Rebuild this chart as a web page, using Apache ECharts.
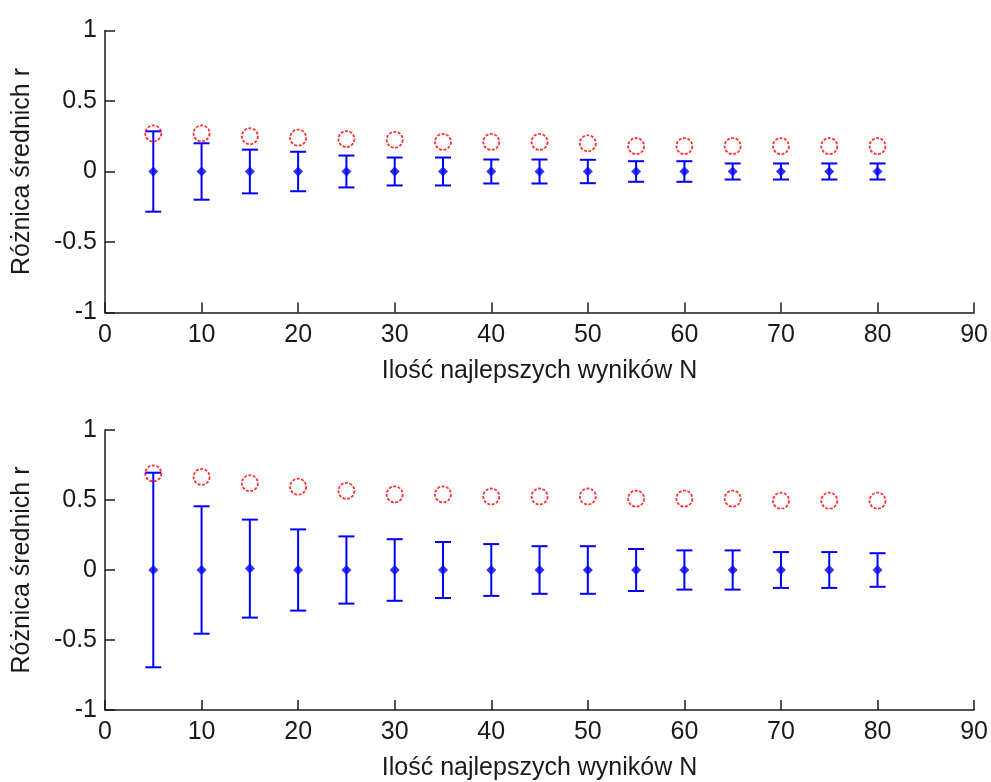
<!DOCTYPE html>
<html>
<head>
<meta charset="utf-8">
<script src="https://cdn.jsdelivr.net/npm/echarts@6/dist/echarts.min.js"></script>
<style>html,body{margin:0;padding:0;background:#fff;}#c{width:991px;height:782px;}</style>
</head>
<body>
<div id="c"></div>
<script>
var N = [5,10,15,20,25,30,35,40,45,50,55,60,65,70,75,80];
var xTicks = [0,10,20,30,40,50,60,70,80,90];
var yTicks = [-1,-0.5,0,0.5,1];

var topUpper = [0.27,0.27,0.25,0.24,0.23,0.225,0.21,0.21,0.21,0.20,0.18,0.18,0.18,0.18,0.18,0.18];
var topMean  = [0,0,0,0,0,0,0,0,0,0,0,0,0,0,0,0];
var topErr   = [0.285,0.20,0.155,0.14,0.113,0.099,0.099,0.085,0.085,0.083,0.073,0.073,0.057,0.057,0.057,0.057];

var botUpper = [0.69,0.665,0.62,0.595,0.565,0.54,0.54,0.525,0.525,0.525,0.51,0.51,0.51,0.495,0.495,0.495];
var botMean  = [0,0,0.01,0,0,0,0,0,0,0,0,0,0,0,0,0];
var botErr   = [0.695,0.455,0.35,0.29,0.24,0.22,0.2,0.185,0.17,0.17,0.15,0.14,0.14,0.128,0.128,0.12];

var xName = 'Ilość najlepszych wyników N';
var yName = 'Różnica średnich r';

var FONT = "'Liberation Sans', Arial, sans-serif";
var AX = '#1a1a1a';

function xAxisOpt(gi){
  return {
    type:'value', gridIndex:gi, min:0, max:90, interval:10,
    name:xName, nameLocation:'middle', nameGap:46,
    nameTextStyle:{fontFamily:FONT, fontSize:25, color:AX},
    axisLine:{show:true, onZero:false, lineStyle:{color:AX, width:1.5}},
    axisTick:{show:true, inside:true, length:10, lineStyle:{color:AX, width:1.5}},
    axisLabel:{fontFamily:FONT, fontSize:25, color:AX, margin:10,
      customValues: xTicks},
    splitLine:{show:false}
  };
}
function yAxisOpt(gi){
  return {
    type:'value', gridIndex:gi, min:-1, max:1, interval:0.5,
    name:yName, nameLocation:'middle', nameGap:70, nameRotate:90,
    nameTextStyle:{fontFamily:FONT, fontSize:25, color:AX},
    axisLine:{show:true, onZero:false, lineStyle:{color:AX, width:1.5}},
    axisTick:{show:true, inside:true, length:10, lineStyle:{color:AX, width:1.5}},
    axisLabel:{fontFamily:FONT, fontSize:25, color:AX, margin:8,
      customValues: yTicks,
      formatter:function(v){ return String(v); }},
    splitLine:{show:false}
  };
}

function errData(mean, err){
  return N.map(function(x,i){ return [x, mean[i]-err[i], mean[i]+err[i]]; });
}
function errSeries(gi, mean, err){
  return {
    type:'custom', xAxisIndex:gi, yAxisIndex:gi,
    data: errData(mean, err),
    renderItem:function(params, api){
      var x = api.value(0);
      var lo = api.coord([x, api.value(1)]);
      var hi = api.coord([x, api.value(2)]);
      var w = 8;
      var st = {stroke:'#0000ff', lineWidth:2, fill:null};
      return {type:'group', children:[
        {type:'line', shape:{x1:lo[0], y1:lo[1], x2:hi[0], y2:hi[1]}, style:st},
        {type:'line', shape:{x1:lo[0]-w, y1:lo[1], x2:lo[0]+w, y2:lo[1]}, style:st},
        {type:'line', shape:{x1:hi[0]-w, y1:hi[1], x2:hi[0]+w, y2:hi[1]}, style:st}
      ]};
    },
    z:2, silent:true
  };
}
function meanSeries(gi, mean){
  return {
    type:'scatter', xAxisIndex:gi, yAxisIndex:gi,
    data: N.map(function(x,i){ return [x, mean[i]]; }),
    symbol:'diamond', symbolSize:10,
    itemStyle:{color:'#0000ff'}, z:3, silent:true
  };
}
function circleSeries(gi, vals){
  return {
    type:'scatter', xAxisIndex:gi, yAxisIndex:gi,
    data: N.map(function(x,i){ return [x, vals[i]]; }),
    symbol:'circle', symbolSize:16,
    itemStyle:{color:'rgba(0,0,0,0)', borderColor:'#ff0000', borderWidth:1.8, borderType:[3,1.5]},
    z:4, silent:true
  };
}

var chart = echarts.init(document.getElementById('c'), null, {renderer:'canvas'});
chart.setOption({
  animation:false,
  backgroundColor:'#ffffff',
  grid:[
    {left:105, top:30.5, width:870.5, height:282},
    {left:105, top:430, width:870.5, height:282}
  ],
  xAxis:[xAxisOpt(0), xAxisOpt(1)],
  yAxis:[yAxisOpt(0), yAxisOpt(1)],
  series:[
    errSeries(0, topMean, topErr), meanSeries(0, topMean), circleSeries(0, topUpper),
    errSeries(1, botMean, botErr), meanSeries(1, botMean), circleSeries(1, botUpper)
  ]
});
</script>
</body>
</html>
